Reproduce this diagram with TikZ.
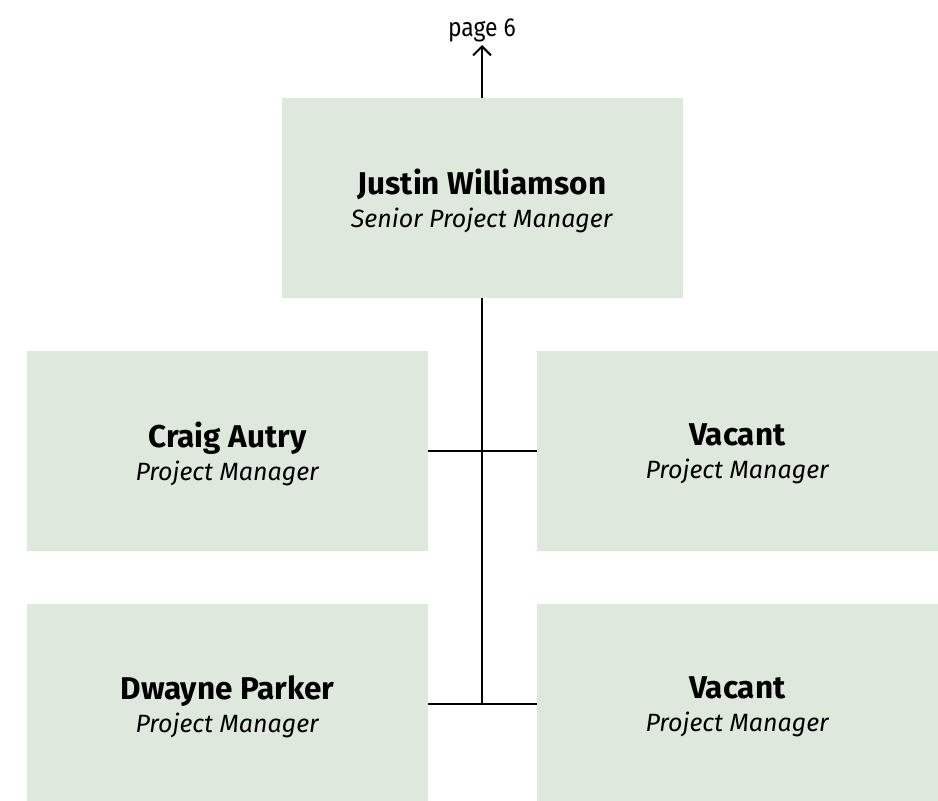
\documentclass[tikz,border=0pt]{standalone}
\usepackage{fontspec}
\setmainfont{Fira Sans}
\usetikzlibrary{arrows.meta}
\definecolor{boxfill}{RGB}{223,232,220}
\begin{document}
\begin{tikzpicture}[x=1pt,y=-1pt,
  person/.style={rectangle, fill=boxfill, minimum width=401pt, minimum height=200pt,
    inner sep=0pt, align=center, font=\fontsize{25}{33}\selectfont},
  link/.style={line width=2.5pt, black}]
\useasboundingbox (0,0) rectangle (938,801);
\newcommand\pnm[1]{\textbf{\fontsize{31.5}{33}\selectfont #1}}
\node[person] (js) at (482,198) {};
\node[align=center, font=\fontsize{25}{33}\selectfont] (jst) at (482,201) {\pnm{Justin Williamson}\\\textit{Senior Project Manager}};
\node[person] (ca) at (227.5,451) {};
\node[align=center, font=\fontsize{25}{33}\selectfont] (cat) at (227.5,454) {\pnm{Craig Autry}\\\textit{Project Manager}};
\node[person] (v1) at (737.5,451) {};
\node[align=center, font=\fontsize{25}{33}\selectfont] (v1t) at (737.5,454) {\pnm{Vacant}\\\textit{Project Manager}};
\node[person] (dp) at (227.5,704) {};
\node[align=center, font=\fontsize{25}{33}\selectfont] (dpt) at (227.5,707) {\pnm{Dwayne Parker}\\\textit{Project Manager}};
\node[person] (v2) at (737.5,704) {};
\node[align=center, font=\fontsize{25}{33}\selectfont] (v2t) at (737.5,707) {\pnm{Vacant}\\\textit{Project Manager}};
\node[anchor=south, inner sep=3pt, font=\fontsize{26}{28}\selectfont] (pg) at (482,45) {\scalebox{0.88}[1]{page 6}};
\coordinate (bot) at (482,704);
\draw[link, -{Straight Barb[length=9pt, width=18pt, line width=2pt]}] (js.north) -- (pg.south);
\draw[link] (js.south) -- (bot);
\draw[link] (ca.east) -- (v1.west);
\draw[link] (dp.east) -- (v2.west);
\end{tikzpicture}
\end{document}
